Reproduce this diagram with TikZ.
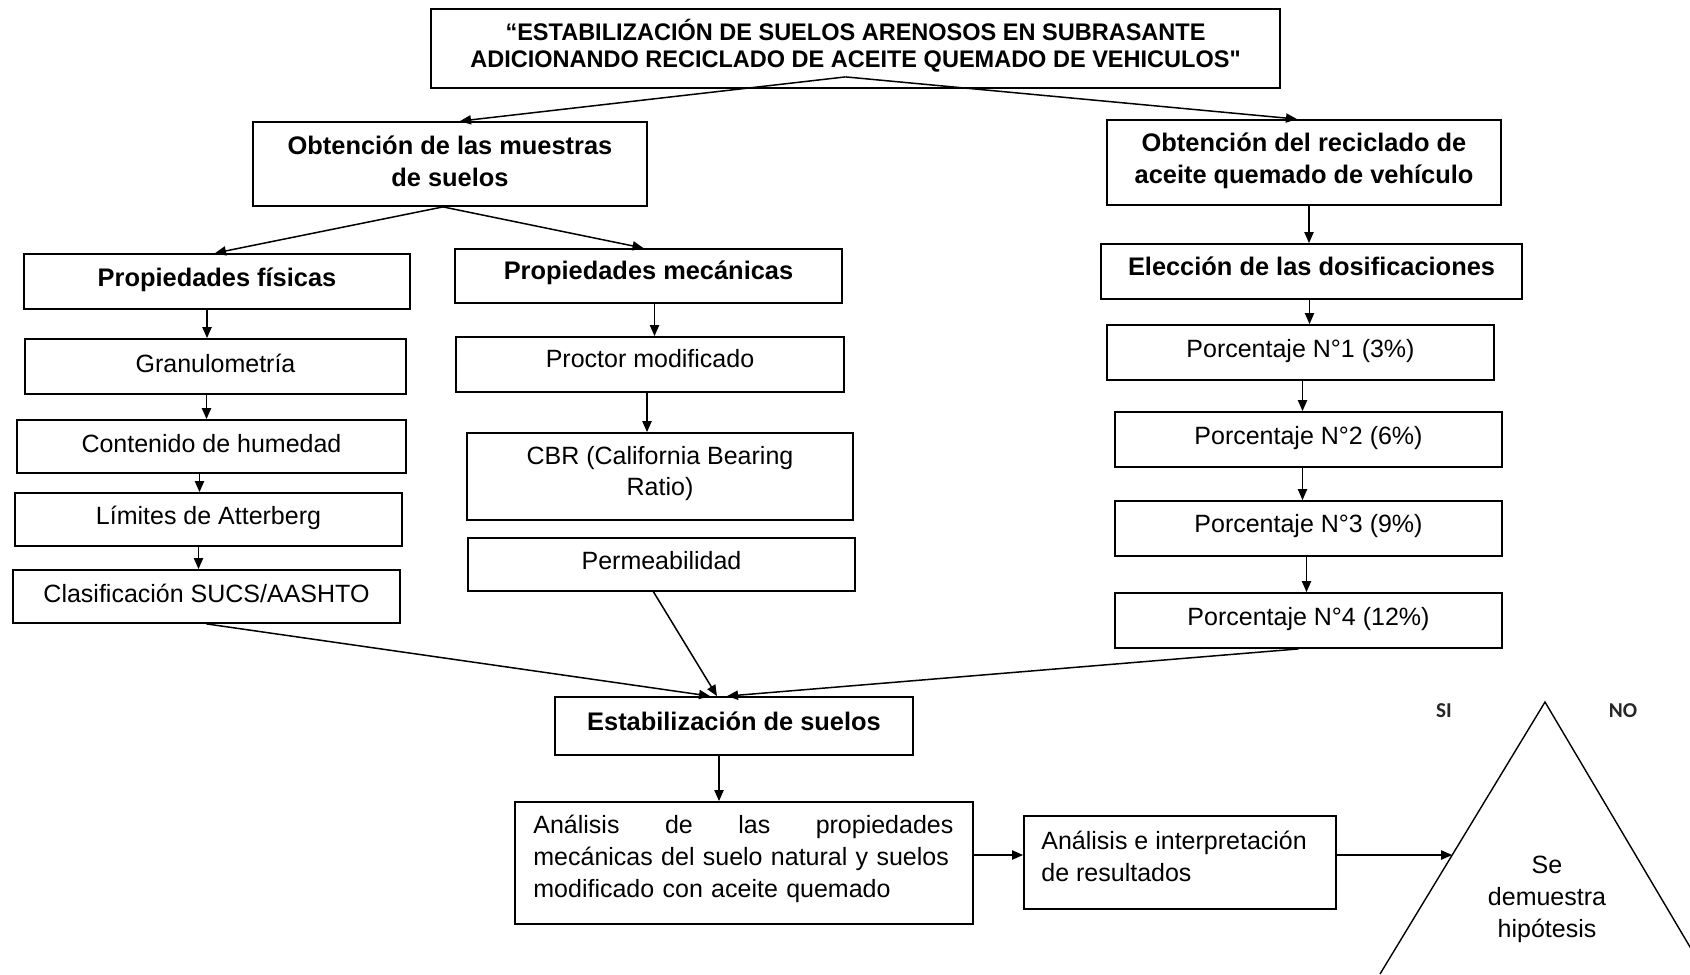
\documentclass[tikz,border=0pt]{standalone}
\usepackage{fontspec}
\setmainfont{Liberation Sans}
\newfontfamily\calib{Carlito}
\newfontfamily\titlefont[FakeStretch=0.98,Ligatures=TeXOff]{Liberation Sans}
\usetikzlibrary{arrows.meta,fit,calc}
\newcommand\dn[2][3pt]{\raisebox{-#1}[\height][\depth]{#2}}
\begin{document}
\begin{tikzpicture}[x=0.5pt,y=-0.5pt,
  box/.style={draw, line width=0.9pt, inner sep=0pt, align=center,
    font=\fontsize{12.5}{15.5}\selectfont},
  one/.style={text height=9pt, text depth=4pt},
  hbox/.style={box, font=\fontsize{12.7}{16}\selectfont\bfseries},
  txt/.style={inner sep=0pt, align=left, font=\fontsize{12.5}{16}\selectfont},
  arr/.style={line width=0.75pt, -{Triangle[length=5.5pt,width=4.6pt]}},
  ln/.style={line width=0.7pt},
  sino/.style={inner sep=0pt, font=\calib\fontsize{10.6}{12}\selectfont\bfseries, text=black!85}]
\useasboundingbox (0,0) rectangle (1690,974);
\clip (0,0) rectangle (1690,974);

% title
\node[box, font=\titlefont\fontsize{12}{13.6}\selectfont\bfseries, fit={(431,9)(1280,88)}] (title)
  {\dn[4pt]{“ESTABILIZACIÓN DE SUELOS ARENOSOS EN SUBRASANTE}\\\dn[4pt]{ADICIONANDO RECICLADO DE ACEITE QUEMADO DE VEHICULOS"}};

% second level
\node[hbox, fit={(253,122)(647,206)}] (muestras) {\dn[3.2pt]{Obtención de las muestras}\\\dn[3.2pt]{de suelos}};
\node[hbox, fit={(1107,120)(1501,205)}] (reciclado) {\dn[4pt]{Obtención del reciclado de}\\\dn[4pt]{aceite quemado de vehículo}};

% physical
\node[hbox, one, fit={(24,254)(410,309)}] (fis) {\dn[3.6pt]{Propiedades físicas}};
\node[box, one, fit={(25,339)(406,394)}] (gran) {\dn{Granulometría}};
\node[box, one, fit={(17,420)(406,473)}] (cont) {\dn{Contenido de humedad}};
\node[box, one, fit={(15,493)(402,546)}] (lim) {\dn[3.8pt]{Límites de Atterberg}};
\node[box, one, fit={(13,570)(400,623)}] (clas) {\dn{Clasificación SUCS/AASHTO}};

% mechanical
\node[hbox, one, fit={(455,249)(842,303)}] (mec) {\dn[3.2pt]{Propiedades mecánicas}};
\node[box, one, fit={(456,337)(844,392)}] (proc) {\dn[1.6pt]{Proctor modificado}};
\node[box, fit={(467,433)(853,520)}] (cbr) {\dn[3.2pt]{CBR (California Bearing}\\\dn[3.2pt]{Ratio)}};
\node[box, one, fit={(468,538)(855,591)}] (perm) {\dn[2.4pt]{Permeabilidad}};

% dosages
\node[hbox, one, fit={(1101,244)(1522,299)}] (elec) {\dn[2pt]{Elección de las dosificaciones}};
\node[box, one, fit={(1107,325)(1494,380)}] (p1) {\dn[3.8pt]{Porcentaje N°1 (3\%)}};
\node[box, one, fit={(1115,412)(1502,467)}] (p2) {\dn[4pt]{Porcentaje N°2 (6\%)}};
\node[box, one, fit={(1115,501)(1502,556)}] (p3) {\dn[3.4pt]{Porcentaje N°3 (9\%)}};
\node[box, one, fit={(1115,593)(1502,648)}] (p4) {\dn[4pt]{Porcentaje N°4 (12\%)}};

% bottom
\node[hbox, one, fit={(555,697)(913,755)}] (estab) {\dn[2.4pt]{Estabilización de suelos}};
\node[box, fit={(515,802)(973,924)}] (analisis) {};
\node[txt, anchor=north west, text width=210pt] (atext) at (533,815)
  {\makebox[210pt][l]{Análisis\hfill de\hfill las\hfill propiedades}\\
   mecánicas del suelo natural y suelos\\
   modificado con aceite quemado};
\node[box, fit={(1024,816)(1336,909)}] (interp) {};
\node[txt, anchor=north west] (itext) at (1041,831)
  {Análisis e interpretación\\de resultados};

% triangle
\coordinate (apex) at (1545,702);
\coordinate (tril) at (1380,974);
\coordinate (trir) at (1706,974);
\draw[ln] (tril) -- (apex) -- (trir);
\coordinate (tipT) at ($(apex)!0.5625!(tril)$);
\node[txt, align=center] (hyp) at (1547,899) {Se\\demuestra\\hipótesis};
\node[sino] (si) at (1444,711) {SI};
\node[sino] (no) at (1623,711) {NO};

% connectors
\coordinate (tsplit) at ([xshift=-5pt,yshift=6pt]title.south);
\draw[arr] (tsplit) -- ([xshift=5pt]muestras.north);
\draw[arr] (tsplit) -- ([xshift=-3.5pt]reciclado.north);
\draw[arr] ([xshift=-3.5pt]muestras.south) -- ([xshift=-1pt]fis.north);
\draw[arr] ([xshift=-3.5pt]muestras.south) -- ([xshift=-2.5pt]mec.north);

\draw[arr] ([xshift=-5pt]fis.south) -- ([xshift=-5pt]fis.south |- gran.north);
\draw[arr] ([xshift=-4.5pt]gran.south) -- ([xshift=-4.5pt]gran.south |- cont.north);
\draw[arr] ([xshift=-6pt]cont.south) -- ([xshift=-6pt]cont.south |- lim.north);
\draw[arr] ([xshift=-5pt]lim.south) -- ([xshift=-5pt]lim.south |- clas.north);

\draw[arr] ([xshift=3pt]mec.south) -- ([xshift=3pt]mec.south |- proc.north);
\draw[arr] ([xshift=-1.5pt]proc.south) -- ([xshift=-1.5pt]proc.south |- cbr.north);

\draw[arr] ([xshift=2.5pt]reciclado.south) -- ([xshift=2.5pt]reciclado.south |- elec.north);
\draw[arr] ([xshift=-1pt]elec.south) -- ([xshift=-1pt]elec.south |- p1.north);
\draw[arr] ([xshift=1pt]p1.south) -- ([xshift=1pt]p1.south |- p2.north);
\draw[arr] ([xshift=-3pt]p2.south) -- ([xshift=-3pt]p2.south |- p3.north);
\draw[arr] ([xshift=-1pt]p3.south) -- ([xshift=-1pt]p3.south |- p4.north);

\draw[arr] (clas.south) -- ([xshift=-12pt]estab.north);
\draw[arr] ([xshift=-4pt]perm.south) -- ([xshift=-8.5pt]estab.north);
\draw[arr] ([xshift=-5pt]p4.south) -- ([xshift=-3.5pt]estab.north);

\draw[arr] ([xshift=-7.5pt]estab.south) -- ([xshift=-7.5pt]estab.south |- analisis.north);
\draw[arr] (analisis.east |- tipT) -- (interp.west |- tipT);
\draw[arr] (interp.east |- tipT) -- (tipT);
\end{tikzpicture}
\end{document}
